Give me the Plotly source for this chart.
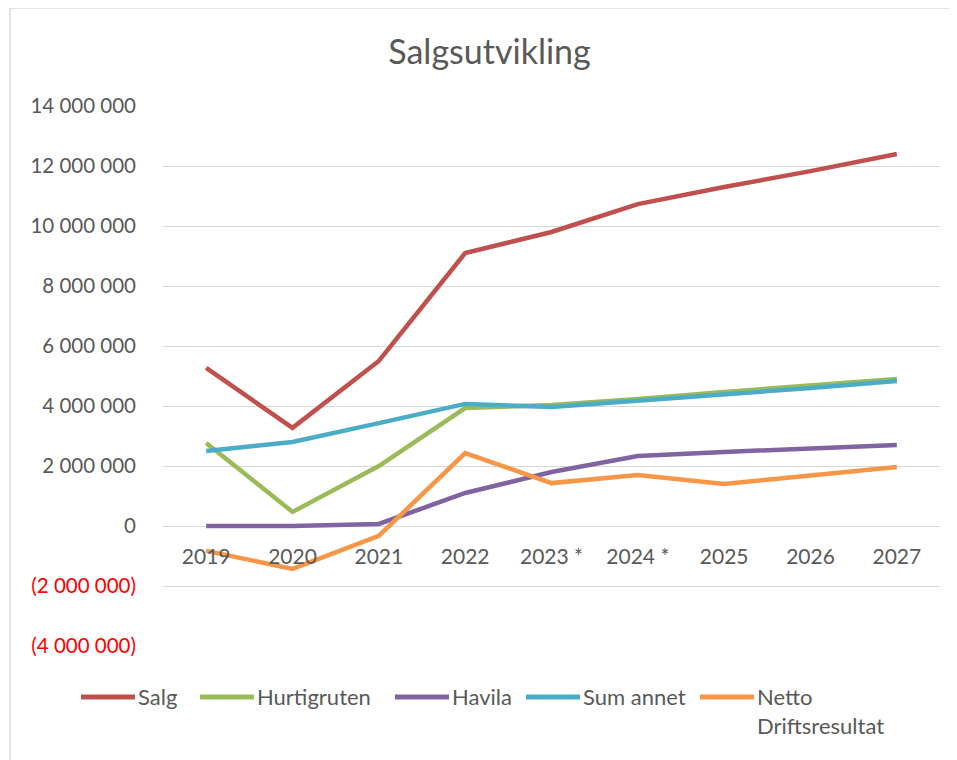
import plotly.graph_objects as go

years = ["2019", "2020", "2021", "2022", "2023 *", "2024 *", "2025", "2026", "2027"]
salg = [5270000, 3270000, 5500000, 9100000, 9800000, 10730000, 11300000, 11830000, 12400000]
hurtigruten = [2770000, 470000, 2000000, 3930000, 4030000, 4230000, 4470000, 4670000, 4900000]
havila = [0, 0, 70000, 1100000, 1800000, 2330000, 2470000, 2570000, 2700000]
sum_annet = [2500000, 2800000, 3430000, 4070000, 3970000, 4170000, 4370000, 4600000, 4830000]
netto = [-830000, -1430000, -330000, 2430000, 1430000, 1700000, 1400000, 1700000, 1970000]

series = [
    ("Salg", salg, "#C0504D"),
    ("Hurtigruten", hurtigruten, "#9BBB59"),
    ("Havila", havila, "#8064A2"),
    ("Sum annet", sum_annet, "#4BACC6"),
    ("Netto<br>Driftsresultat", netto, "#F79646"),
]

tick_vals = [-4000000, -2000000, 0, 2000000, 4000000, 6000000, 8000000, 10000000, 12000000, 14000000]

def fmt(v):
    s = f"{abs(v):,}".replace(",", " ")
    if v < 0:
        return f"<span style='color:#FF0000'>({s})</span>"
    return s

tick_text = [fmt(v) for v in tick_vals]

FONT = "Lato, Open Sans, sans-serif"
GREY = "#595959"

OFF = 8  # page body margin offset
W, H = 957, 760
L, T = 163 - OFF, 106 - OFF
R = W - (940 - OFF)
B = H - (646 - OFF)
PW, PH = W - L - R, H - T - B

def px(x):
    return (x - OFF - L) / PW

def py(y):
    return (H - B - (y - OFF)) / PH

fig = go.Figure()
for name, vals, color in series:
    fig.add_trace(go.Scatter(
        x=years, y=vals, name=name, mode="lines",
        line=dict(color=color, width=4.5),
    ))

legend_pos = [81, 200, 395, 526, 700]
shapes = [dict(type="rect", xref="paper", yref="paper",
               x0=px(10), x1=px(990), y0=py(800), y1=py(8),
               line=dict(color="#D9D9D9", width=1.5), layer="below")]
annotations = []
for (name, vals, color), x0 in zip(series, legend_pos):
    shapes.append(dict(type="line", xref="paper", yref="paper",
                       x0=px(x0), x1=px(x0 + 54), y0=py(697), y1=py(697),
                       line=dict(color=color, width=5)))
    annotations.append(dict(xref="paper", yref="paper", x=px(x0 + 55), y=py(697 - 16),
                            text=name, showarrow=False, xanchor="left", yanchor="top",
                            align="left", font=dict(size=22, color=GREY, family=FONT)))

fig.update_layout(
    width=W, height=H,
    margin=dict(l=L, r=R, t=T, b=B, autoexpand=False),
    paper_bgcolor="white", plot_bgcolor="white",
    font=dict(family=FONT, color=GREY, size=20),
    title=dict(text="Salgsutvikling", x=(489.5 - OFF) / W, xanchor="center",
               y=1 - (52 - OFF) / H, yanchor="middle",
               font=dict(size=34, color=GREY, family=FONT)),
    showlegend=False,
    xaxis=dict(
        type="category", anchor="free", position=4 / 18,
        range=[-0.5, len(years) - 0.5],
        showline=False, showgrid=False, zeroline=False,
        ticks="", tickfont=dict(size=21, color=GREY),
        ticklabelstandoff=16, automargin=False,
    ),
    yaxis=dict(
        range=[-4000000, 14000000], tickvals=tick_vals, ticktext=tick_text,
        showgrid=True, gridcolor="#D9D9D9", gridwidth=1.3,
        zeroline=False, showline=False, ticks="",
        tickfont=dict(size=20.5, color=GREY), ticklabelstandoff=26, automargin=False,
    ),
    shapes=shapes,
    annotations=annotations,
)

fig.write_html("out.html")
